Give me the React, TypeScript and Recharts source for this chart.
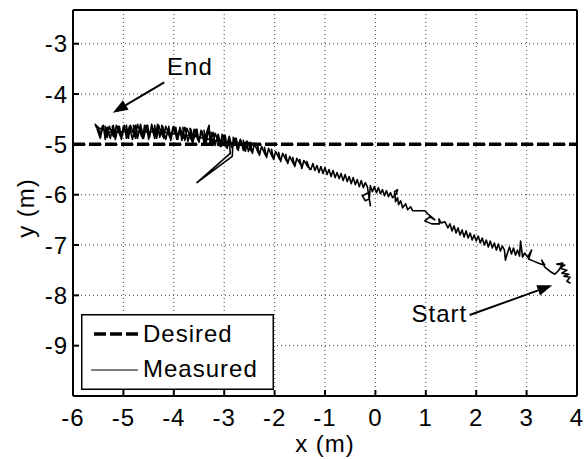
import React from "react";
import {
  LineChart,
  Line,
  XAxis,
  YAxis,
  CartesianGrid,
  ReferenceLine,
  ReferenceDot,
  Legend,
} from "recharts";

const xTicks = [-6, -5, -4, -3, -2, -1, 0, 1, 2, 3, 4];
const yTicks = [-9, -8, -7, -6, -5, -4, -3];
const yDomain = [-10, -2.33];

const desired = [
  { x: -6, y: -5 },
  { x: 4, y: -5 },
];

// measured robot path, start (right) -> end (left)
const measuredPath: [number, number][] = [
  [3.87, -7.76], [3.8, -7.72], [3.86, -7.64], [3.74, -7.62], [3.84, -7.58],
  [3.7, -7.56], [3.8, -7.5], [3.66, -7.46], [3.76, -7.4], [3.6, -7.38],
  [3.72, -7.36], [3.64, -7.5], [3.56, -7.58], [3.46, -7.52], [3.36, -7.44],
  [3.3, -7.3], [3.36, -7.4], [3.24, -7.36], [3.14, -7.32], [3.04, -7.28],
  [3.1, -7.1], [3.02, -7.24], [2.96, -7.16], [2.92, -7.24], [2.88, -6.92],
  [2.86, -7.22], [2.82, -7.1], [2.78, -7.2], [2.74, -7.06], [2.7, -7.18],
  [2.66, -7.04], [2.62, -7.16], [2.58, -7.3], [2.56, -7.1], [2.52, -7.02],
  [2.48, -7.12], [2.44, -6.98], [2.4, -7.1], [2.36, -6.96], [2.32, -7.06],
  [2.28, -6.92], [2.24, -7.04], [2.2, -6.9], [2.16, -7.0], [2.12, -6.86],
  [2.08, -6.96], [2.04, -6.82], [2.0, -6.92], [1.96, -6.8], [1.92, -6.9],
  [1.88, -6.76], [1.84, -6.86], [1.8, -6.72], [1.76, -6.84], [1.72, -6.7],
  [1.68, -6.8], [1.64, -6.66], [1.6, -6.76], [1.56, -6.62], [1.52, -6.72],
  [1.48, -6.58], [1.44, -6.66], [1.38, -6.54], [1.3, -6.56], [1.26, -6.48],
  [1.27, -6.58], [1.12, -6.58], [0.98, -6.52], [1.08, -6.44], [1.18, -6.5],
  [1.04, -6.38], [0.98, -6.32], [0.86, -6.32], [0.74, -6.32], [0.7, -6.24],
  [0.64, -6.3], [0.6, -6.18], [0.54, -6.26], [0.5, -6.12], [0.46, -6.2],
  [0.44, -6.06], [0.4, -6.14], [0.38, -5.94], [0.44, -5.9], [0.42, -5.98],
  [0.34, -6.06], [0.3, -5.96], [0.26, -6.04], [0.22, -5.92], [0.18, -6.02],
  [0.14, -5.9], [0.1, -5.98], [0.06, -5.86], [0.02, -5.96], [-0.02, -5.84],
  [-0.06, -5.94], [-0.1, -5.82], [-0.12, -6.08], [-0.2, -6.12], [-0.26, -6.02],
  [-0.14, -5.96], [-0.1, -6.22], [-0.16, -5.84], [-0.2, -5.76], [-0.24, -5.86],
  [-0.28, -5.72], [-0.32, -5.84], [-0.36, -5.7], [-0.4, -5.8], [-0.44, -5.66],
  [-0.48, -5.78], [-0.52, -5.64], [-0.56, -5.74], [-0.6, -5.6], [-0.64, -5.72],
  [-0.68, -5.58], [-0.72, -5.68], [-0.76, -5.56], [-0.8, -5.66], [-0.84, -5.52],
  [-0.88, -5.64], [-0.92, -5.5], [-0.96, -5.6], [-1.0, -5.46], [-1.04, -5.58],
  [-1.08, -5.44], [-1.12, -5.56], [-1.16, -5.42], [-1.2, -5.52], [-1.24, -5.38],
  [-1.28, -5.5], [-1.3, -5.5], [-1.36, -5.34], [-1.33, -5.46], [-1.42, -5.32],
  [-1.46, -5.48], [-1.5, -5.3], [-1.47, -5.42], [-1.56, -5.28], [-1.6, -5.44],
  [-1.64, -5.26], [-1.62, -5.4], [-1.7, -5.24], [-1.74, -5.38], [-1.78, -5.2],
  [-1.76, -5.34], [-1.84, -5.18], [-1.88, -5.34], [-1.92, -5.16], [-1.9, -5.3],
  [-1.98, -5.14], [-2.02, -5.3], [-2.06, -5.1], [-2.04, -5.26], [-2.12, -5.08],
  [-2.16, -5.26], [-2.2, -5.06], [-2.18, -5.22], [-2.26, -5.04], [-2.3, -5.22],
  [-2.34, -5.0], [-2.32, -5.18], [-2.4, -4.98], [-2.44, -5.18], [-2.48, -4.96],
  [-2.46, -5.14], [-2.54, -4.94], [-2.58, -5.14], [-2.62, -4.92], [-2.6, -5.1],
  [-2.68, -4.9], [-2.72, -5.12], [-2.76, -4.88], [-2.74, -5.06], [-2.82, -4.86],
  [-2.84, -5.24], [-3.54, -5.76], [-2.88, -5.18], [-2.9, -4.86], [-2.94, -5.08],
  [-2.98, -4.82], [-2.96, -5.02], [-3.04, -4.8], [-3.08, -5.04], [-3.12, -4.8],
  [-3.1, -4.98], [-3.18, -4.78], [-3.22, -5.02], [-3.26, -4.76], [-3.24, -4.96],
  [-3.32, -4.74], [-3.36, -4.98], [-3.4, -4.72], [-3.38, -4.94], [-3.46, -4.72],
  [-3.5, -4.96], [-3.54, -4.7], [-3.52, -4.92], [-3.6, -4.7], [-3.64, -4.94],
  [-3.68, -4.68], [-3.66, -4.9], [-3.74, -4.68], [-3.78, -4.92], [-3.82, -4.66],
  [-3.8, -4.88], [-3.88, -4.66], [-3.92, -4.9], [-3.96, -4.66], [-3.94, -4.86],
  [-4.02, -4.66], [-4.06, -4.9], [-4.1, -4.64], [-4.08, -4.86], [-4.16, -4.64],
  [-4.2, -4.88], [-4.24, -4.62], [-4.22, -4.84], [-4.3, -4.62], [-4.34, -4.88],
  [-4.38, -4.62], [-4.36, -4.84], [-4.44, -4.6], [-4.48, -4.86], [-4.52, -4.62],
  [-4.5, -4.84], [-4.58, -4.62], [-4.62, -4.88], [-4.66, -4.62], [-4.64, -4.84],
  [-4.72, -4.6], [-4.76, -4.88], [-4.8, -4.62], [-4.78, -4.84], [-4.86, -4.62],
  [-4.9, -4.88], [-4.94, -4.62], [-4.92, -4.84], [-5.0, -4.64], [-5.04, -4.88],
  [-5.08, -4.64], [-5.06, -4.84], [-5.14, -4.62], [-5.18, -4.86], [-5.22, -4.64],
  [-5.2, -4.84], [-5.28, -4.64], [-5.32, -4.86], [-5.36, -4.64], [-5.34, -4.82],
  [-5.42, -4.64], [-5.46, -4.82], [-5.5, -4.66], [-5.56, -4.6], [-5.48, -4.76],
  // wandering back and forth near the end point
  [-5.52, -4.7], [-5.46, -4.88], [-5.4, -4.62], [-5.36, -4.9], [-5.32, -4.66],
  [-5.26, -4.88], [-5.2, -4.62], [-5.16, -4.9], [-5.1, -4.64], [-5.04, -4.9],
  [-4.98, -4.62], [-4.94, -4.88], [-4.88, -4.64], [-4.82, -4.9], [-4.76, -4.62],
  [-4.72, -4.88], [-4.66, -4.6], [-4.6, -4.88], [-4.54, -4.62], [-4.5, -4.9],
  [-4.44, -4.64], [-4.38, -4.88], [-4.32, -4.6], [-4.28, -4.86], [-4.22, -4.64],
  [-4.16, -4.9], [-4.1, -4.66], [-4.06, -4.92], [-4.0, -4.64], [-3.94, -4.9],
  [-3.88, -4.68], [-3.84, -4.92], [-3.78, -4.66], [-3.72, -4.94], [-3.66, -4.7],
  [-3.62, -4.96], [-3.56, -4.7], [-3.5, -4.94], [-3.44, -4.74], [-3.4, -4.98],
  [-3.34, -4.74], [-3.3, -4.62], [-3.28, -5.0], [-3.22, -4.76], [-3.18, -5.02],
  [-3.12, -4.8], [-3.06, -5.04], [-3.0, -4.82], [-2.96, -5.06], [-2.9, -4.84],
  [-2.84, -5.08], [-2.78, -4.88], [-2.74, -5.1], [-2.68, -4.9], [-2.62, -5.12],
  [-2.56, -4.94], [-2.52, -5.14], [-2.46, -4.98], [-3.0, -4.96], [-3.6, -4.84],
  [-4.2, -4.76], [-4.8, -4.74], [-5.3, -4.76], [-5.56, -4.64],
];

const annotations = [
  { text: "End", x: -3.68, y: -3.46 },
  { text: "Start", x: 1.27, y: -8.37 },
];

const arrows = [
  { from: { x: -4.19, y: -3.77 }, to: { x: -5.21, y: -4.37 } },
  { from: { x: 1.87, y: -8.39 }, to: { x: 3.51, y: -7.8 } },
];

const measured = measuredPath.map(([x, y]) => ({ x, y }));

const FONT = "'Liberation Sans', Arial, Helvetica, sans-serif";
const textStyle = { fontFamily: FONT, fontSize: 24, letterSpacing: 1, fill: "#000" };

const arrowShape = (props: any) => {
  const { x1, y1, x2, y2 } = props;
  const ang = Math.atan2(y2 - y1, x2 - x1);
  const len = 15;
  const half = 5.5;
  const bx = x2 - len * Math.cos(ang);
  const by = y2 - len * Math.sin(ang);
  const px = -Math.sin(ang) * half;
  const py = Math.cos(ang) * half;
  return (
    <g>
      <line x1={x1} y1={y1} x2={bx} y2={by} stroke="#000" strokeWidth={2} />
      <polygon
        points={`${x2},${y2} ${bx + px},${by + py} ${bx - px},${by - py}`}
        fill="#000"
      />
    </g>
  );
};

const renderLegend = () => (
  <svg width={193} height={76} style={{ display: "block" }}>
    <rect x={0.75} y={0.75} width={191.5} height={74.5} fill="#fff" stroke="#000" strokeWidth={1.5} />
    <line x1={13} y1={20} x2={57} y2={20} stroke="#000" strokeWidth={3.5} strokeDasharray="12 4" />
    <text x={62} y={28} style={textStyle}>Desired</text>
    <line x1={10} y1={56} x2={57} y2={56} stroke="#000" strokeWidth={1} />
    <text x={62} y={63} style={textStyle}>Measured</text>
  </svg>
);

const TrajectoryChart: React.FC = () => {
  return (
    <div style={{ position: "absolute", left: 0, top: 0, background: "#fff" }}>
      <LineChart
        width={587}
        height={459}
        margin={{ top: 10, right: 10, bottom: 0, left: 8 }}
      >
        <CartesianGrid
          xAxisId="b"
          yAxisId="l"
          stroke="#444"
          strokeDasharray="1 3"
          horizontalValues={yTicks}
          verticalValues={xTicks}
        />
        <Line
          xAxisId="b"
          yAxisId="l"
          data={measured}
          dataKey="y"
          stroke="#000"
          strokeWidth={1.6}
          strokeLinejoin="round"
          dot={false}
          isAnimationActive={false}
        />
        <Line
          xAxisId="b"
          yAxisId="l"
          data={desired}
          dataKey="y"
          stroke="#000"
          strokeWidth={3.5}
          strokeDasharray="12 4"
          dot={false}
          isAnimationActive={false}
        />
        <XAxis
          xAxisId="b"
          type="number"
          dataKey="x"
          domain={[-6, 4]}
          ticks={xTicks}
          allowDataOverflow
          height={63}
          stroke="#000"
          strokeWidth={2}
          tickSize={-6}
          tickMargin={19}
          tick={textStyle}
          label={({ viewBox }: any) => (
            <text
              x={viewBox.x + viewBox.width / 2}
              y={viewBox.y + 47}
              textAnchor="middle"
              dominantBaseline="central"
              style={textStyle}
            >
              x (m)
            </text>
          )}
        />
        <XAxis
          xAxisId="t"
          orientation="top"
          type="number"
          dataKey="x"
          domain={[-6, 4]}
          ticks={xTicks}
          allowDataOverflow
          mirror
          stroke="#000"
          strokeWidth={2}
          tickSize={6}
          tick={false}
        />
        <YAxis
          yAxisId="l"
          type="number"
          domain={yDomain}
          ticks={yTicks}
          allowDataOverflow
          width={65}
          stroke="#000"
          strokeWidth={2}
          tickSize={-6}
          tickMargin={11}
          tick={textStyle}
          label={({ viewBox }: any) => (
            <text
              transform={`translate(${viewBox.x + 17}, ${viewBox.y + viewBox.height / 2 + 5}) rotate(-90)`}
              textAnchor="middle"
              dominantBaseline="central"
              style={textStyle}
            >
              y (m)
            </text>
          )}
        />
        <YAxis
          yAxisId="r"
          orientation="right"
          type="number"
          domain={yDomain}
          ticks={yTicks}
          allowDataOverflow
          mirror
          stroke="#000"
          strokeWidth={2}
          tickSize={6}
          tick={false}
        />
        {arrows.map((a, i) => (
          <ReferenceLine
            key={`arrow-${i}`}
            xAxisId="b"
            yAxisId="l"
            segment={[a.from, a.to]}
            shape={arrowShape}
          />
        ))}
        {annotations.map((a) => (
          <ReferenceDot
            key={a.text}
            xAxisId="b"
            yAxisId="l"
            x={a.x}
            y={a.y}
            shape={(p: any) => (
              <text
                x={p.cx}
                y={p.cy}
                textAnchor="middle"
                dominantBaseline="central"
                style={textStyle}
              >
                {a.text}
              </text>
            )}
          />
        ))}
        <Legend
          layout="vertical"
          align="center"
          verticalAlign="middle"
          content={renderLegend}
          wrapperStyle={{ position: "absolute", left: 81, top: 314, width: 193, height: 76 }}
        />
      </LineChart>
    </div>
  );
};

export default function App() {
  return <TrajectoryChart />;
}
